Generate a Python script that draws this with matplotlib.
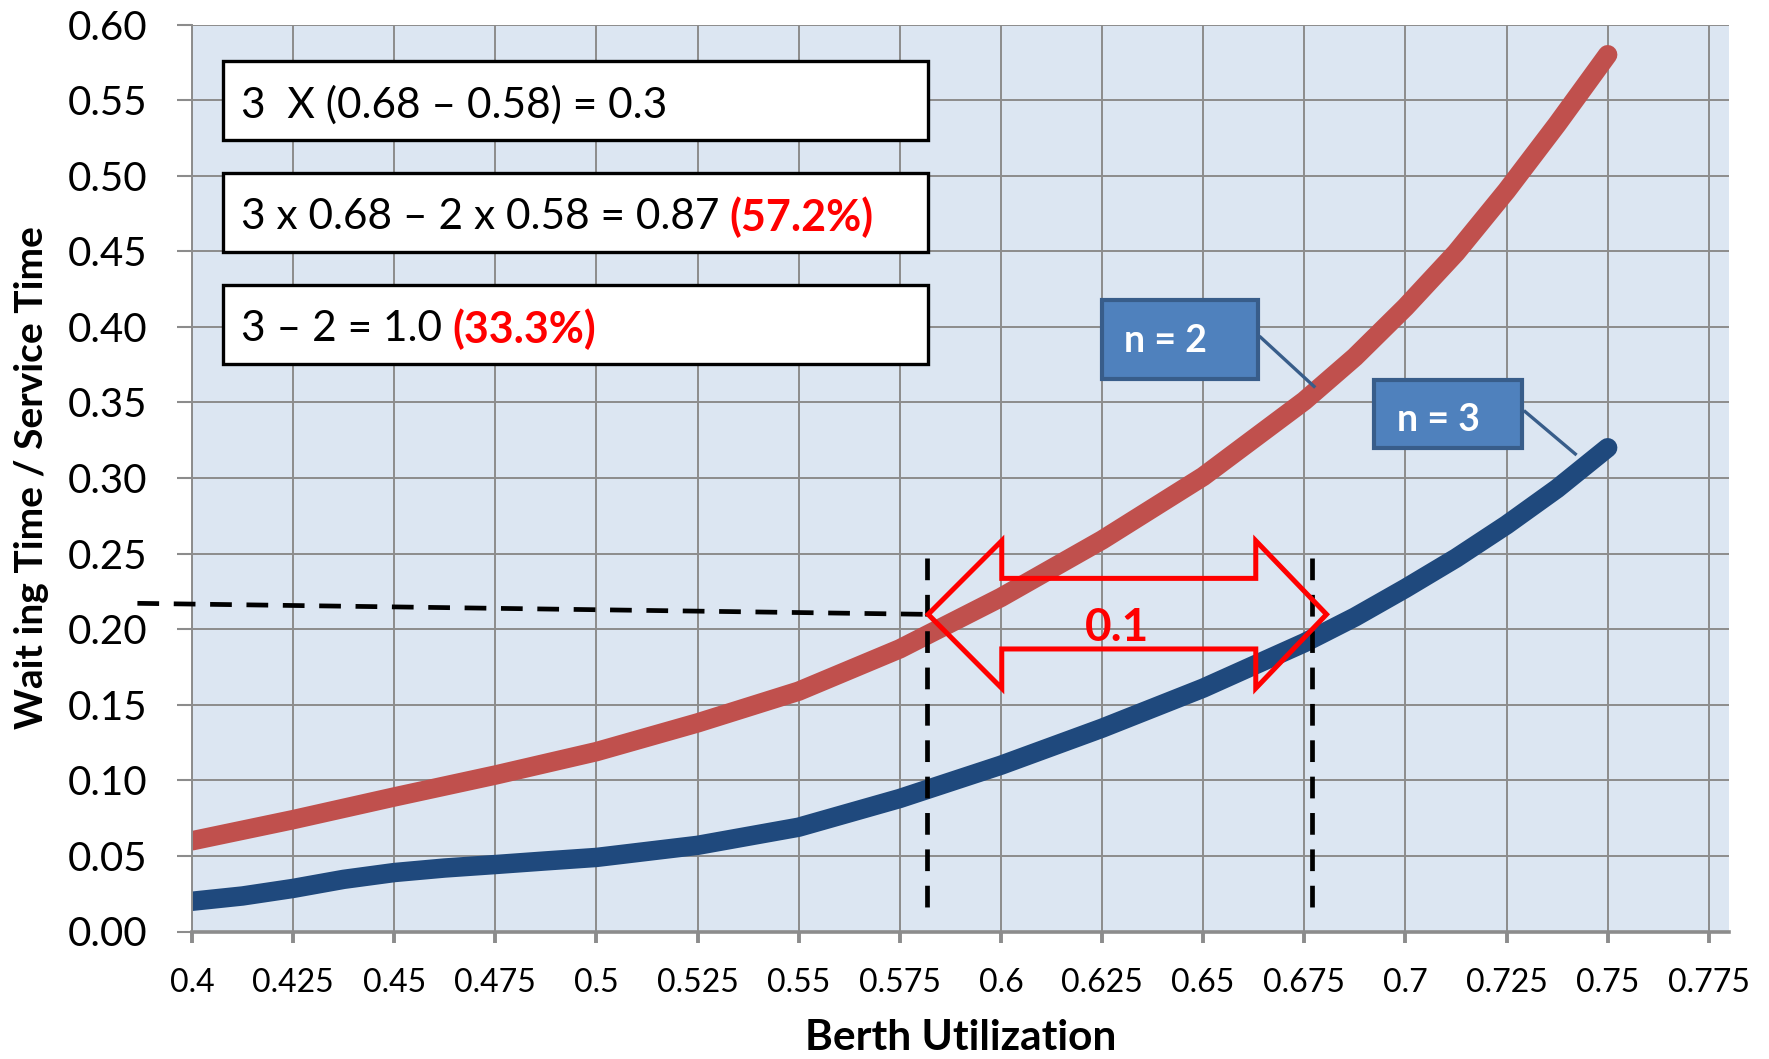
import numpy as np
import matplotlib
matplotlib.use('Agg')
import matplotlib.pyplot as plt
from matplotlib.patches import Rectangle, Polygon
from matplotlib.ticker import FormatStrFormatter

plt.rcParams['font.family'] = ['Lato', 'DejaVu Sans']
plt.rcParams['axes.unicode_minus'] = False

# data
util_n2 = [0.4, 0.425, 0.45, 0.475, 0.5, 0.525, 0.55, 0.575, 0.6, 0.625,
           0.65, 0.675, 0.6875, 0.7, 0.7125, 0.725, 0.7375, 0.75]
wait_n2 = [0.060, 0.074, 0.089, 0.1035, 0.119, 0.138, 0.159, 0.187, 0.221, 0.259,
           0.301, 0.351, 0.380, 0.413, 0.449, 0.490, 0.534, 0.580]
util_n3 = [0.4, 0.4125, 0.425, 0.4375, 0.45, 0.4625, 0.475, 0.4875, 0.5, 0.525,
           0.55, 0.575, 0.6, 0.625, 0.65, 0.675, 0.6875, 0.7, 0.7125, 0.725,
           0.7375, 0.75]
wait_n3 = [0.020, 0.0235, 0.0285, 0.0345, 0.039, 0.042, 0.0443, 0.0467, 0.049, 0.057,
           0.069, 0.088, 0.110, 0.1345, 0.161, 0.191, 0.208, 0.227, 0.247, 0.269,
           0.293, 0.320]
xtick_vals = [0.4, 0.425, 0.45, 0.475, 0.5, 0.525, 0.55, 0.575, 0.6, 0.625,
              0.65, 0.675, 0.7, 0.725, 0.75, 0.775]
xtick_labels = ['0.4', '0.425', '0.45', '0.475', '0.5', '0.525', '0.55', '0.575',
                '0.6', '0.625', '0.65', '0.675', '0.7', '0.725', '0.75', '0.775']
ytick_vals = [0.0, 0.05, 0.1, 0.15, 0.2, 0.25, 0.3, 0.35, 0.4, 0.45, 0.5, 0.55, 0.6]

# annotation geometry (data units)
util_lo, util_hi = 0.5818, 0.6770
wait_ref = (0.2171, 0.2098)
formula_boxes = [(0.5236, 0.5758), (0.4493, 0.5019), (0.3754, 0.4277)]
formula_black = ['3  X (0.68 \u2013 0.58) = 0.3',
                 '3 x 0.68 \u2013 2 x 0.58 = 0.87',
                 '3 \u2013 2 = 1.0']
formula_red = [None, '(57.2%)', '(33.3%)']

red = '#C0504D'
blue = '#1F497D'
grid_c = '#8c8c8c'

fig = plt.figure(figsize=(17.69, 10.59), dpi=100)
ax = fig.add_axes([192/1769, 127.5/1059, 1537/1769, 907/1059])
ax.set_facecolor('#DCE6F2')
ax.set_xlim(0.4, 0.78)
ax.set_ylim(0, 0.6)
ax.set_axisbelow(True)
ax.grid(color=grid_c, lw=1.4)

for s in ['top', 'right']:
    ax.spines[s].set_visible(False)
ax.spines['left'].set_color(grid_c)
ax.spines['left'].set_linewidth(1.4)
ax.spines['bottom'].set_color(grid_c)
ax.spines['bottom'].set_linewidth(2.6)

ax.set_xticks(xtick_vals)
ax.set_xticklabels(xtick_labels)
ax.set_yticks(ytick_vals)
ax.yaxis.set_major_formatter(FormatStrFormatter('%.2f'))
ax.tick_params(axis='x', direction='out', length=8, width=2.8, color=grid_c,
               labelsize=23, pad=18)
ax.tick_params(axis='y', direction='out', length=11, width=1.5, color=grid_c,
               labelsize=29, pad=21)

ax.set_xlabel('Berth Utilization', fontsize=30.5, fontweight='bold')
ax.xaxis.set_label_coords(0.5, -0.097)
ax.set_ylabel('Wait ing Time / Service Time', fontsize=28, fontweight='bold')
ax.yaxis.set_label_coords(-0.093, 0.5)

# curves
ax.plot(util_n2, wait_n2, color=red, lw=14, solid_capstyle='round',
        solid_joinstyle='round', zorder=2)
ax.plot(util_n3, wait_n3, color=blue, lw=14, solid_capstyle='round',
        solid_joinstyle='round', zorder=2)

# formula boxes
for (y0, y1), tb, tr in zip(formula_boxes, formula_black, formula_red):
    ax.add_patch(Rectangle((0.4076, y0), 0.5819 - 0.4076, y1 - y0, facecolor='white',
                           edgecolor='black', lw=2.4, zorder=3))
    t = ax.text(0.4122, (y0 + y1) / 2 - 0.003, tb, fontsize=30.5, va='center',
                ha='left', color='black', zorder=4)
    if tr:
        ax.annotate(tr, xy=(1, 0.5), xycoords=t, xytext=(7, 0),
                    textcoords='offset points', va='center', ha='left',
                    fontsize=31, fontweight='bold', color='#FF0000', zorder=4)

# n labels with leader lines
ax.add_patch(Rectangle((0.6250, 0.3653), 0.6636 - 0.6250, 0.4177 - 0.3653,
                       facecolor='#4F81BD', edgecolor='#385D8A', lw=3, zorder=3))
ax.text(0.6305, 0.3905, 'n = 2', color='white', fontsize=27, fontweight='bold',
        va='center', ha='left', zorder=4)
ax.plot([0.6642, 0.6774], [0.3931, 0.3606], color='#385D8A', lw=2.4, zorder=3)

ax.add_patch(Rectangle((0.6922, 0.3200), 0.7288 - 0.6922, 0.3648 - 0.3200,
                       facecolor='#4F81BD', edgecolor='#385D8A', lw=3, zorder=3))
ax.text(0.6979, 0.3382, 'n = 3', color='white', fontsize=27, fontweight='bold',
        va='center', ha='left', zorder=4)
ax.plot([0.7296, 0.7420], [0.3439, 0.3159], color='#385D8A', lw=2.4, zorder=3)

# dashed guide lines
dash = (0, (4.6, 3.1))
ax.plot([0.3865, util_lo], list(wait_ref), color='black', lw=3.4, ls=dash,
        clip_on=False, zorder=5)
ax.plot([util_lo, util_lo], [0.2471, 0.0149], color='black', lw=3.4, ls=dash, zorder=5)
ax.plot([util_hi, util_hi], [0.2471, 0.0149], color='black', lw=3.4, ls=dash, zorder=5)

# double arrow outline
xs = [0.5820, 0.6002, 0.6002, 0.6630, 0.6630, 0.6805, 0.6630, 0.6630, 0.6002, 0.6002]
ys = [0.2098, 0.2585, 0.2336, 0.2336, 0.2585, 0.2098, 0.1609, 0.1869, 0.1869, 0.1609]
ax.add_patch(Polygon(np.column_stack([xs, ys]), closed=True, fill=False,
                     edgecolor='#FF0000', lw=3.6, joinstyle='miter', zorder=6))
ax.text(0.6288, 0.2006, '0.1', color='#FF0000', fontsize=33, fontweight='bold',
        ha='center', va='center', zorder=6)

plt.savefig('out.png', dpi=100)
